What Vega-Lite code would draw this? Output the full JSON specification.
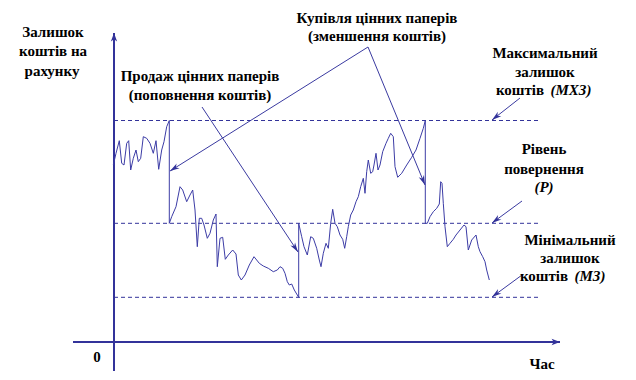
{
  "$schema": "https://vega.github.io/schema/vega-lite/v6.json",
  "width": 636,
  "height": 380,
  "padding": 0,
  "autosize": {"type": "fit", "contains": "padding"},
  "config": {"view": {"stroke": null}},
  "background": "white",
  "datasets": {
    "series": [
      {"i":1,"t":113.3,"v":165},{"i":2,"t":116,"v":153.3},{"i":3,"t":119.3,"v":140.7},{"i":4,"t":121.7,"v":163.3},{"i":5,"t":124,"v":165},{"i":6,"t":126.7,"v":143.3},{"i":7,"t":128.7,"v":140.7},{"i":8,"t":130.7,"v":170},{"i":9,"t":133.3,"v":158.3},{"i":10,"t":136,"v":150},{"i":11,"t":138.3,"v":161.7},{"i":12,"t":140.7,"v":158.3},{"i":13,"t":143.3,"v":136.7},{"i":14,"t":146.7,"v":138.3},{"i":15,"t":150,"v":143.3},{"i":16,"t":153.3,"v":153.3},{"i":17,"t":156,"v":140.7},{"i":18,"t":158.7,"v":169.3},{"i":19,"t":161.7,"v":150},{"i":20,"t":164,"v":141.7},{"i":21,"t":166.7,"v":126.7},{"i":22,"t":169.3,"v":120.5},
      {"i":23,"t":169.3,"v":223.3},{"i":24,"t":171.7,"v":216.7},{"i":25,"t":176,"v":206.7},{"i":26,"t":180,"v":186.7},{"i":27,"t":182.7,"v":190},{"i":28,"t":186.7,"v":201.7},{"i":29,"t":190,"v":195},{"i":30,"t":192.7,"v":190},{"i":31,"t":195,"v":210},{"i":32,"t":197.3,"v":246.7},{"i":33,"t":199.3,"v":218.3},{"i":34,"t":201.7,"v":218.3},{"i":35,"t":204,"v":225},{"i":36,"t":207.3,"v":238.3},{"i":37,"t":210,"v":233.3},{"i":38,"t":213.3,"v":220},{"i":39,"t":216,"v":214},{"i":40,"t":217.3,"v":266.7},{"i":41,"t":220,"v":238.3},{"i":42,"t":222.7,"v":237.3},{"i":43,"t":225.3,"v":259.3},{"i":44,"t":228.3,"v":255},{"i":45,"t":232.7,"v":250},{"i":46,"t":236,"v":254},{"i":47,"t":238.3,"v":275},{"i":48,"t":241.3,"v":280},{"i":49,"t":245,"v":275},{"i":50,"t":249.3,"v":265},{"i":51,"t":254,"v":256.7},{"i":52,"t":259.3,"v":263.3},{"i":53,"t":263.3,"v":266},{"i":54,"t":268.3,"v":268.3},{"i":55,"t":273.3,"v":271.7},{"i":56,"t":277.3,"v":270},{"i":57,"t":280,"v":266.7},{"i":58,"t":282.7,"v":268.3},{"i":59,"t":285,"v":273.3},{"i":60,"t":287.3,"v":281.7},{"i":61,"t":289.3,"v":285},{"i":62,"t":291.7,"v":284},{"i":63,"t":294.3,"v":290},{"i":64,"t":298.7,"v":297.3},
      {"i":65,"t":298.7,"v":223.3},{"i":66,"t":301.7,"v":236.7},{"i":67,"t":304,"v":246.7},{"i":68,"t":307.3,"v":255},{"i":69,"t":310.7,"v":236.7},{"i":70,"t":313.3,"v":238.3},{"i":71,"t":316.7,"v":248.3},{"i":72,"t":319.3,"v":260},{"i":73,"t":321,"v":266.7},{"i":74,"t":323.3,"v":253.3},{"i":75,"t":326,"v":243.3},{"i":76,"t":328.3,"v":248.3},{"i":77,"t":330.7,"v":223.3},{"i":78,"t":332.7,"v":209.3},{"i":79,"t":335,"v":223.3},{"i":80,"t":337.3,"v":226.7},{"i":81,"t":340,"v":235},{"i":82,"t":342.7,"v":239.3},{"i":83,"t":344.7,"v":248.3},{"i":84,"t":346.7,"v":236.7},{"i":85,"t":348.3,"v":226.7},{"i":86,"t":350.7,"v":215},{"i":87,"t":353.3,"v":210},{"i":88,"t":356,"v":201.7},{"i":89,"t":358.3,"v":196.7},{"i":90,"t":360.7,"v":186.7},{"i":91,"t":363.3,"v":178.3},{"i":92,"t":365,"v":193.3},{"i":93,"t":366.7,"v":171.7},{"i":94,"t":368.3,"v":160},{"i":95,"t":370.7,"v":173.3},{"i":96,"t":372.7,"v":171.7},{"i":97,"t":374,"v":165},{"i":98,"t":376,"v":153.3},{"i":99,"t":378,"v":170},{"i":100,"t":380,"v":165},{"i":101,"t":382.7,"v":151.7},{"i":102,"t":386,"v":143.3},{"i":103,"t":388.3,"v":138.3},{"i":104,"t":390.7,"v":133.3},{"i":105,"t":393.3,"v":136.7},{"i":106,"t":395,"v":166.7},{"i":107,"t":397.7,"v":177.3},{"i":108,"t":401.7,"v":173.3},{"i":109,"t":406.7,"v":165},{"i":110,"t":411.7,"v":157.3},{"i":111,"t":416,"v":150},{"i":112,"t":420,"v":138.3},{"i":113,"t":423.3,"v":128.3},{"i":114,"t":425.3,"v":120.5},
      {"i":115,"t":425.3,"v":223.3},{"i":116,"t":427.3,"v":223.3},{"i":117,"t":430,"v":216.7},{"i":118,"t":433.3,"v":211.7},{"i":119,"t":436.7,"v":208.3},{"i":120,"t":439.3,"v":204},{"i":121,"t":440.7,"v":181.7},{"i":122,"t":442,"v":183.3},{"i":123,"t":443.3,"v":203.3},{"i":124,"t":445,"v":226.7},{"i":125,"t":447.3,"v":246.7},{"i":126,"t":450,"v":243.3},{"i":127,"t":453.3,"v":239.3},{"i":128,"t":456,"v":235},{"i":129,"t":460,"v":230},{"i":130,"t":464,"v":225},{"i":131,"t":466,"v":226.7},{"i":132,"t":468.3,"v":250},{"i":133,"t":471.7,"v":240},{"i":134,"t":476,"v":235},{"i":135,"t":478.3,"v":246.7},{"i":136,"t":480,"v":251.7},{"i":137,"t":482.7,"v":256.7},{"i":138,"t":485,"v":261.7},{"i":139,"t":486.7,"v":270},{"i":140,"t":489.3,"v":280}
    ],
    "levels": [
      {"level":"МХЗ","x":114,"x2":538,"y":120.5},
      {"level":"Р","x":114,"x2":538,"y":223.3},
      {"level":"МЗ","x":114,"x2":538,"y":297.3}
    ],
    "axes": [
      {"x":114,"y":371,"x2":114,"y2":33},
      {"x":73,"y":342,"x2":560,"y2":342}
    ],
    "pointers": [
      {"x":368,"y":47,"x2":170,"y2":171},
      {"x":368,"y":47,"x2":425,"y2":185},
      {"x":202,"y":107,"x2":298,"y2":252},
      {"x":520,"y":98,"x2":492,"y2":120},
      {"x":522,"y":201,"x2":492,"y2":223},
      {"x":522,"y":275,"x2":492,"y2":297}
    ],
    "labels": [
      {"x":53,"y":32,"text":"Залишок"},
      {"x":53,"y":51,"text":"коштів на"},
      {"x":52,"y":71,"text":"рахунку"},
      {"x":200,"y":76,"text":"Продаж цінних паперів"},
      {"x":200,"y":95,"text":"(поповнення коштів)"},
      {"x":377,"y":18,"text":"Купівля цінних паперів"},
      {"x":377,"y":36,"text":"(зменшення коштів)"},
      {"x":545,"y":53,"text":"Максимальний"},
      {"x":545,"y":72,"text":"залишок"},
      {"x":520,"y":90,"text":"коштів"},
      {"x":544,"y":149,"text":"Рівень"},
      {"x":544,"y":169,"text":"повернення"},
      {"x":570,"y":240,"text":"Мінімальний"},
      {"x":570,"y":258,"text":"залишок"},
      {"x":544,"y":276,"text":"коштів"},
      {"x":97,"y":357,"text":"0"},
      {"x":542,"y":364,"text":"Час"}
    ],
    "symbols": [
      {"x":571,"y":90,"text":"(МХЗ)"},
      {"x":544,"y":187,"text":"(Р)"},
      {"x":590,"y":276,"text":"(МЗ)"}
    ]
  },
  "layer": [
    {
      "data": {"name": "levels"},
      "mark": {"type": "rule", "color": "#33339a", "strokeWidth": 1, "strokeDash": [4, 3]},
      "encoding": {
        "x": {"field": "x", "type": "quantitative", "scale": {"domain": [0, 636], "nice": false, "zero": false}, "axis": null},
        "x2": {"field": "x2"},
        "y": {"field": "y", "type": "quantitative", "scale": {"domain": [0, 380], "nice": false, "zero": false, "reverse": true}, "axis": null}
      }
    },
    {
      "data": {"name": "axes"},
      "mark": {"type": "rule", "color": "#33339a", "strokeWidth": 2},
      "encoding": {
        "x": {"field": "x", "type": "quantitative"},
        "x2": {"field": "x2"},
        "y": {"field": "y", "type": "quantitative"},
        "y2": {"field": "y2"}
      }
    },
    {
      "data": {"name": "pointers"},
      "mark": {"type": "rule", "color": "#3a3aa0", "strokeWidth": 1},
      "encoding": {
        "x": {"field": "x", "type": "quantitative"},
        "x2": {"field": "x2"},
        "y": {"field": "y", "type": "quantitative"},
        "y2": {"field": "y2"}
      }
    },
    {
      "data": {"name": "series"},
      "mark": {"type": "line", "color": "#3c3ca6", "strokeWidth": 1},
      "encoding": {
        "x": {"field": "t", "type": "quantitative"},
        "y": {"field": "v", "type": "quantitative"},
        "order": {"field": "i", "type": "quantitative"}
      }
    },
    {
      "data": {"name": "pointers"},
      "transform": [{"calculate": "atan2(datum.x2 - datum.x, datum.y - datum.y2) * 180 / PI", "as": "ang"}],
      "mark": {"type": "point", "filled": true, "color": "#33339a", "opacity": 1, "size": 64, "shape": "M0,0L-0.7,2.4L0,1.7L0.7,2.4Z"},
      "encoding": {
        "x": {"field": "x2", "type": "quantitative"},
        "y": {"field": "y2", "type": "quantitative"},
        "angle": {"field": "ang", "type": "quantitative", "scale": null}
      }
    },
    {
      "data": {"name": "axes"},
      "transform": [{"calculate": "atan2(datum.x2 - datum.x, datum.y - datum.y2) * 180 / PI", "as": "ang"}],
      "mark": {"type": "point", "filled": true, "color": "#33339a", "opacity": 1, "size": 49, "shape": "M0,0L-0.9,2.4L0,1.8L0.9,2.4Z"},
      "encoding": {
        "x": {"field": "x2", "type": "quantitative"},
        "y": {"field": "y2", "type": "quantitative"},
        "angle": {"field": "ang", "type": "quantitative", "scale": null}
      }
    },
    {
      "data": {"name": "labels"},
      "mark": {"type": "text", "font": "Liberation Serif", "fontWeight": "bold", "fontSize": 15, "color": "black", "align": "center", "baseline": "middle"},
      "encoding": {
        "x": {"field": "x", "type": "quantitative"},
        "y": {"field": "y", "type": "quantitative"},
        "text": {"field": "text"}
      }
    },
    {
      "data": {"name": "symbols"},
      "mark": {"type": "text", "font": "Liberation Serif", "fontWeight": "bold", "fontStyle": "italic", "fontSize": 15, "color": "black", "align": "center", "baseline": "middle"},
      "encoding": {
        "x": {"field": "x", "type": "quantitative"},
        "y": {"field": "y", "type": "quantitative"},
        "text": {"field": "text"}
      }
    }
  ]
}
